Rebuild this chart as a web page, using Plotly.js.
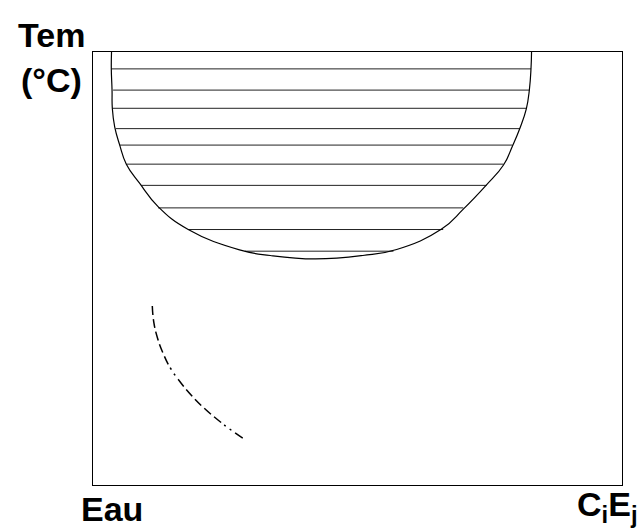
<!DOCTYPE html>
<html>
<head>
<meta charset="utf-8">
<script src="https://cdn.plot.ly/plotly-3.0.1.min.js"></script>
<style>html,body{margin:0;padding:0;background:#fff;}#chart{width:641px;height:532px;}</style>
</head>
<body>
<div id="chart"></div>
<script>
// Binodal (miscibility gap) boundary, composition (x, 0-100) vs temperature (y, 0-100)
const binodalX = [3.5, 3.46, 3.6, 3.65, 4.1, 5.05, 6.3, 8.8, 12.3, 18.0, 27.7, 33.5, 42.0, 51.0, 57.4, 65.9, 70.0, 74.3, 77.6, 79.3, 80.7, 81.9, 82.5, 82.8, 82.9];
const binodalY = [100, 96.1, 91.2, 87.0, 82.7, 78.5, 74.1, 69.7, 64.3, 59.0, 54.3, 53.0, 52.2, 53.0, 54.4, 59.1, 63.7, 69.2, 73.9, 78.3, 82.4, 86.8, 91.4, 96.2, 100];

// Tie lines: temperature, left and right composition
const tieY      = [96.1, 91.2, 87.0, 82.3, 78.5, 74.1, 69.2, 64.0, 59.0, 54.0];
const tieLeftX  = [3.46, 3.8, 3.65, 4.3, 5.05, 6.3, 9.1, 12.3, 18.0, 28.7];
const tieRightX = [82.8, 82.5, 81.9, 80.7, 79.3, 77.6, 74.4, 70.0, 66.2, 56.8];

// Dash-dot curve (lower left)
const dashX = [11.21, 11.49, 12.19, 13.23, 14.74, 16.63, 18.71, 20.98, 23.63, 26.09, 28.54];
const dashY = [41.34, 37.64, 33.95, 30.48, 26.79, 23.56, 20.55, 17.78, 15.01, 12.70, 10.62];

const traces = [];
for (let i = 0; i < tieY.length; i++) {
  traces.push({
    x: [tieLeftX[i], tieRightX[i]], y: [tieY[i], tieY[i]],
    mode: 'lines', line: {color: '#222', width: 1}, hoverinfo: 'skip', showlegend: false
  });
}
traces.push({
  x: binodalX, y: binodalY, mode: 'lines',
  line: {color: '#000', width: 1.2, shape: 'spline', smoothing: 1.3}, showlegend: false
});
traces.push({
  x: dashX, y: dashY, mode: 'lines',
  line: {color: '#000', width: 1.5, shape: 'spline', smoothing: 1.3,
         dash: '9px,4px,9px,4px,9px,4px,9px,4px,9px,4px,2px,5px,2px,5px'}, showlegend: false
});

const font = {family: 'Liberation Sans, Arial, sans-serif', size: 34, color: '#000', weight: 'bold'};
const layout = {
  width: 641, height: 532,
  margin: {l: 93, r: 19, t: 52, b: 47, pad: 0},
  paper_bgcolor: '#fff', plot_bgcolor: '#fff',
  showlegend: false,
  xaxis: {range: [0, 100], showline: true, mirror: true, linecolor: '#000', linewidth: 1.3,
          showgrid: false, zeroline: false, showticklabels: false, ticks: ''},
  yaxis: {range: [0, 100], showline: true, mirror: true, linecolor: '#000', linewidth: 1.3,
          showgrid: false, zeroline: false, showticklabels: false, ticks: ''},
  annotations: [
    {text: 'Tem', xref: 'paper', yref: 'paper', x: -0.0785, y: 1.039, xanchor: 'center', yanchor: 'middle', showarrow: false, font: font},
    {text: '(°C)', xref: 'paper', yref: 'paper', x: -0.0785, y: 0.9355, xanchor: 'center', yanchor: 'middle', showarrow: false, font: font},
    {text: 'Eau', xref: 'paper', yref: 'paper', x: 0.035, y: -0.0554, xanchor: 'center', yanchor: 'middle', showarrow: false, font: font},
    {text: 'C<sub>i</sub>E<sub>j</sub>', xref: 'paper', yref: 'paper', x: 0.9735, y: -0.05, xanchor: 'center', yanchor: 'middle', showarrow: false, font: font}
  ]
};
Plotly.newPlot('chart', traces, layout, {displayModeBar: false, staticPlot: true});
</script>
</body>
</html>
